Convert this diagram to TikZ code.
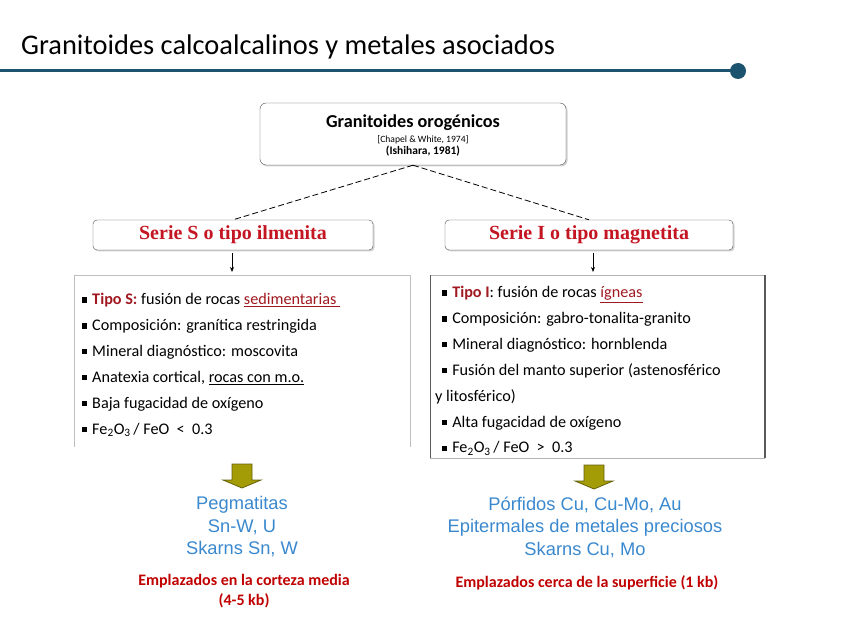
\documentclass[tikz,border=0pt]{standalone}
\usepackage{fontspec}
\setmainfont{Carlito}
\newfontfamily\arialfont{Liberation Sans}
\newfontfamily\serieFont{Liberation Serif}
\usetikzlibrary{arrows.meta,positioning,shadows}
\definecolor{TitleLine}{RGB}{28,84,112}
\definecolor{SerieRed}{RGB}{196,22,34}
\definecolor{TipoRed}{RGB}{160,24,32}
\definecolor{OreBlue}{RGB}{58,136,206}
\definecolor{DepthRed}{RGB}{192,0,0}
\definecolor{OliveFill}{RGB}{164,156,6}
\definecolor{OliveEdge}{RGB}{100,96,10}
\newcommand{\sq}{\rule[0.12em]{0.32em}{0.32em}\hspace{0.3em}}
\newcommand{\sqI}{\hspace*{7pt}\sq}

\begin{document}
\begin{tikzpicture}[x=1pt, y=-1pt,
  every node/.style={inner sep=0pt},
  seriebox/.style={draw=black!70, rounded corners=4pt, fill=white,
    drop shadow={shadow xshift=1.5pt, shadow yshift=-1.5pt, fill=black!35},
    minimum height=30pt, font=\serieFont\bfseries\fontsize{20}{22}\selectfont, text=SerieRed},
  itemlist/.style={align=left, anchor=north west, font=\fontsize{16.2}{25.9}\selectfont},
  oretext/.style={align=center, font=\arialfont\fontsize{18.3}{22.5}\selectfont, text=OreBlue},
  depthtext/.style={align=center, font=\bfseries\fontsize{16}{19.5}\selectfont, text=DepthRed},
  olivearrow/.style={draw=OliveEdge, fill=OliveFill, line width=0.8pt},
  dashline/.style={dashed, dash pattern=on 6pt off 3pt, line width=0.8pt},
  smallarrow/.style={-{Stealth[length=5pt, width=4pt]}, line width=1pt}]
\useasboundingbox (0,0) rectangle (848,636);

% title
\node[anchor=west, font=\fontsize{28.4}{32}\selectfont] (title) at (21,47)
  {Granitoides calcoalcalinos y metales asociados};
\coordinate (lineend) at (738,71);
\draw[TitleLine, line width=3pt] (0,71) -- (lineend);
\fill[TitleLine] (lineend) circle (8);

% top box
\node[draw=black!70, rounded corners=6pt, fill=white,
      drop shadow={shadow xshift=1.5pt, shadow yshift=-1.5pt, fill=black!35},
      minimum width=306pt, minimum height=62pt] (orog) at (413,134) {};
\node[align=center] (orogtext) at ([yshift=-1.5pt]orog.center)
  {{\bfseries\fontsize{18.2}{20}\selectfont Granitoides orogénicos}\\[3pt]
   {\fontsize{9.6}{13}\selectfont\hspace*{20pt}[Chapel \& White, 1974]}\\
   {\bfseries\fontsize{11.5}{13}\selectfont\hspace*{20pt}(Ishihara, 1981)}};

% series
\node[seriebox, minimum width=280pt] (serieS) at (233,235) {Serie S o tipo ilmenita};
\node[seriebox, minimum width=288pt] (serieI) at (589,235) {Serie I o tipo magnetita};
\draw[dashline] (orog.south) -- (serieS.north);
\draw[dashline] (orog.south) -- (serieI.north);

% lists
\draw[black!25, line width=1pt] (74,447) -- (74,275) -- (410,275) -- (410,447);
\draw[black!30, line width=1pt] (430,275) -- (765,275);
\draw[black!30, line width=1pt] (430,458) -- (765,458);
\draw[black!65, line width=1pt] (430,275) -- (430,458);
\draw[black!65, line width=2pt] (765,275) -- (765,458);
\coordinate (listS) at (82,293);
\coordinate (listI) at (435,286);
\coordinate (tipS) at (232,272);
\coordinate (tipI) at (593,272);
\draw[smallarrow] (serieS.south -| tipS) ++(0,3) -- (tipS);
\draw[smallarrow] (serieI.south -| tipI) ++(0,3) -- (tipI);

\node[itemlist] (itemsS) at (listS)
  {\sq{\bfseries\color{TipoRed}Tipo S:} fusión de rocas {\color{TipoRed}\underline{sedimentarias\ }}\\
   \sq Composición: granítica restringida\\
   \sq Mineral diagnóstico: moscovita\\
   \sq Anatexia cortical, \underline{rocas con m.o.}\\
   \sq Baja fugacidad de oxígeno\\
   \sq Fe\textsubscript{2}O\textsubscript{3}\,/ FeO ~<~ 0.3};
\node[itemlist] (itemsI) at (listI)
  {\sqI{\bfseries\color{TipoRed}Tipo I}: fusión de rocas {\color{TipoRed}\underline{ígneas}}\\
   \sqI Composición: gabro-tonalita-granito\\
   \sqI Mineral diagnóstico: hornblenda\\
   \sqI Fusión del manto superior (astenosférico\\
   y litosférico)\\
   \sqI Alta fugacidad de oxígeno\\
   \sqI Fe\textsubscript{2}O\textsubscript{3}\,/ FeO ~>~ 0.3};

% block arrows
\coordinate (arrS) at (242,464);
\coordinate (arrI) at (594,465);
\foreach \c in {arrS,arrI}
  \draw[olivearrow] (\c) ++(-10,0) -- ++(0,16) -- ++(-9,0) -- ++(19,8)
    -- ++(19,-8) -- ++(-9,0) -- ++(0,-16) -- cycle;

% deposits
\node[oretext] (oreS) at (242,527) {Pegmatitas\\Sn-W, U\\Skarns Sn, W};
\node[oretext] (oreI) at (585,527) {Pórfidos Cu, Cu-Mo, Au\\Epitermales de metales preciosos\\Skarns Cu, Mo};
\node[depthtext] (depthS) at (244,591) {Emplazados en la corteza media\\(4-5 kb)};
\node[depthtext] (depthI) at (587,583) {Emplazados cerca de la superficie (1 kb)};
\end{tikzpicture}
\end{document}
